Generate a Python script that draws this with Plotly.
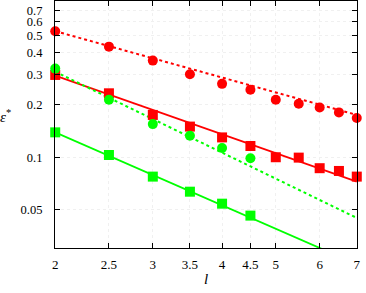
import plotly.graph_objects as go
import math

l_all = [2, 2.5, 3, 3.5, 4, 4.5, 5, 5.5, 6, 6.5, 7]
red_circ = [0.530, 0.432, 0.359, 0.300, 0.264, 0.244, 0.214, 0.203, 0.193, 0.181, 0.168]
red_sq = [0.297, 0.233, 0.175, 0.150, 0.130, 0.116, 0.100, 0.0995, 0.0865, 0.0834, 0.0774]
l_green = [2, 2.5, 3, 3.5, 4, 4.5]
green_circ = [0.323, 0.214, 0.155, 0.133, 0.113, 0.0987]
green_sq = [0.139, 0.103, 0.0774, 0.0634, 0.0541, 0.0462]

fit_x = [2, 7]
red_circ_fit = [0.53, 0.175]
red_sq_fit = [0.294, 0.0724]
green_circ_fit = [0.31, 0.0448]
green_sq_fit = [0.139, 0.0243]

x_ticks = [2, 2.5, 3, 3.5, 4, 4.5, 5, 6, 7]
x_tick_text = ["2", "2.5", "3", "3.5", "4", "4.5", "5", "6", "7"]
y_ticks = [0.05, 0.1, 0.2, 0.3, 0.4, 0.5, 0.6, 0.7]
y_tick_text = ["0.05", "0.1", "0.2", "0.3", "0.4", "0.5", "0.6", "0.7"]

RED = "#ff0000"
GREEN = "#00ff00"

fig = go.Figure()
fig.add_trace(go.Scatter(x=fit_x, y=red_circ_fit, mode="lines",
                         line=dict(color=RED, width=2, dash="dot")))
fig.add_trace(go.Scatter(x=fit_x, y=red_sq_fit, mode="lines",
                         line=dict(color=RED, width=1.8)))
fig.add_trace(go.Scatter(x=fit_x, y=green_circ_fit, mode="lines",
                         line=dict(color=GREEN, width=2, dash="dot")))
fig.add_trace(go.Scatter(x=fit_x, y=green_sq_fit, mode="lines",
                         line=dict(color=GREEN, width=1.8)))
for xs, ys, col, sym in [(l_all, red_circ, RED, "circle"),
                         (l_all, red_sq, RED, "square"),
                         (l_green, green_circ, GREEN, "circle"),
                         (l_green, green_sq, GREEN, "square")]:
    fig.add_trace(go.Scatter(x=xs, y=ys, mode="markers", cliponaxis=False,
                             marker=dict(color=col, size=10, symbol=sym)))

font = "Liberation Serif"
fig.update_layout(
    width=366, height=293,
    margin=dict(l=55, r=9, t=1, b=45, autoexpand=False),
    paper_bgcolor="white", plot_bgcolor="white",
    showlegend=False,
    font=dict(family=font, size=13, color="black"),
)
fig.update_xaxes(
    type="log", range=[math.log10(2) - 0.0004, math.log10(7) + 0.0004],
    tickvals=x_ticks, ticktext=x_tick_text, automargin=False,
    ticks="inside", ticklen=5, tickcolor="black", ticklabelstandoff=4,
    showline=True, linecolor="black", linewidth=1.2, mirror="ticks",
    showgrid=True, gridcolor="#f0f0f0", griddash="dot", gridwidth=0.6,
    zeroline=False,
    title=dict(text="<i>l</i>", font=dict(family=font, size=15), standoff=2),
)
fig.update_yaxes(
    type="log", range=[math.log10(0.0301), math.log10(0.79)],
    tickvals=y_ticks, ticktext=y_tick_text, automargin=False,
    tickfont=dict(size=12.5),
    ticks="inside", ticklen=5, tickcolor="black", ticklabelstandoff=9,
    showline=True, linecolor="black", linewidth=1.2, mirror="ticks",
    showgrid=True, gridcolor="#f0f0f0", griddash="dot", gridwidth=0.6,
    zeroline=False,
)
fig.add_annotation(text="<i>ε</i><sup>*</sup>", xref="paper", yref="paper",
                   x=-0.19, y=0.535, xanchor="left", yanchor="middle",
                   showarrow=False, font=dict(family=font, size=15))
fig.write_html("out.html", config={"displayModeBar": False},
               post_script="document.body.style.margin='0';document.body.style.overflow='hidden';")
